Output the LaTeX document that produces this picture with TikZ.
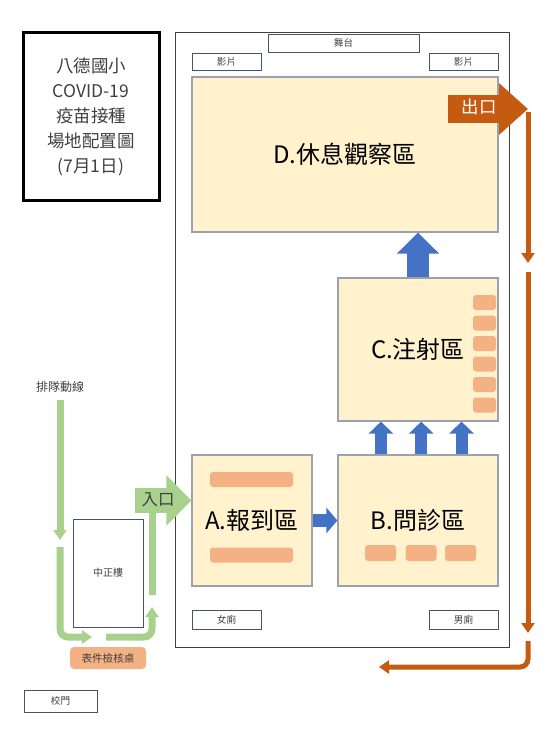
\documentclass[tikz,border=0pt]{standalone}
\usepackage{fontspec}
\setmainfont{Noto Sans CJK TC}
\definecolor{zoneFill}{HTML}{FFF2CC}
\definecolor{zoneEdge}{HTML}{9AA3AD}
\definecolor{barFill}{HTML}{F4B183}
\definecolor{flowBlue}{HTML}{4472C4}
\definecolor{exitOrange}{HTML}{C55A11}
\definecolor{queueGreen}{HTML}{A9D18E}
\definecolor{signEdge}{HTML}{44546A}
\definecolor{textGray}{HTML}{404040}
\usetikzlibrary{arrows.meta, calc}

\begin{document}
\begin{tikzpicture}[
        x=0.5pt, y=-0.5pt,
        zone/.style={rectangle, draw=zoneEdge, line width=0.6pt, fill=zoneFill, inner sep=0pt,
                     font=\fontsize{12}{14}\selectfont, text=black},
        sign/.style={rectangle, draw=signEdge, line width=0.4pt, fill=white, inner sep=0pt,
                     font=\fontsize{4.8}{5}\selectfont, text=textGray},
        bar/.style={rectangle, fill=barFill, rounded corners=1.5pt, inner sep=0pt},
        bigflow/.style={draw=flowBlue, line width=11pt, -{Triangle[width=20.5pt, length=10.5pt]}},
        smallflow/.style={draw=flowBlue, line width=6pt, -{Triangle[width=12pt, length=6pt]}},
        queueline/.style={draw=queueGreen, line width=3.5pt, rounded corners=4pt},
        queuearrow/.style={queueline, -{Triangle[width=6.5pt, length=5pt]}},
        exitline/.style={draw=exitOrange, line width=2.5pt, rounded corners=4pt, -{Triangle[width=6.5pt, length=5pt]}}
      ]
        \useasboundingbox (0,0) rectangle (550,733);

        % hall and fixed places
        \node[draw=textGray, line width=0.5pt, minimum width=167pt, minimum height=307pt] (hall) at (342,340) {};
        \node[draw=black, line width=1.5pt, minimum width=68pt, minimum height=83.5pt, align=center,
              text=textGray, font=\fontsize{8.75}{12.5}\selectfont] (title) at (91,116.5)
              {八德國小\\COVID-19\\疫苗接種\\場地配置圖\\(7月1日)};
        \node[sign, minimum width=75.5pt, minimum height=9pt] (stage) at (343.5,43) {舞台};
        \node[sign, minimum width=34.5pt, minimum height=8.5pt] (filmL) at (226.5,61.5) {影片};
        \node[sign, minimum width=34.5pt, minimum height=8.5pt] (filmR) at (463.5,61.5) {影片};
        \node[sign, minimum width=34.5pt, minimum height=9.5pt] (wcF) at (226.5,619.5) {女廁};
        \node[sign, minimum width=34.5pt, minimum height=9.5pt] (wcM) at (463.5,619.5) {男廁};
        \node[sign, minimum width=36.5pt, minimum height=11pt] (gate) at (60.5,701) {校門};
        \node[sign, minimum width=35pt, minimum height=54pt, font=\fontsize{5}{6}\selectfont] (bldg) at (108,573) {中正樓};
        \node[bar, minimum width=38pt, minimum height=11pt, rounded corners=2pt, text=textGray,
              font=\fontsize{5.3}{6}\selectfont] (check) at (108,658) {表件檢核桌};

        % zones
        \node[zone, minimum width=153pt, minimum height=77.5pt] (D) at (345,154.5) {D.休息觀察區};
        \node[zone, minimum width=80pt, minimum height=71.5pt] (C) at (418,349.5) {C.注射區};
        \node[zone, minimum width=60pt, minimum height=65.5pt] (A) at (252,520.5) {A.報到區};
        \node[zone, minimum width=80pt, minimum height=65.5pt] (B) at (418,520.5) {B.問診區};
        \foreach \y in {479.5,555} \node[bar, minimum width=41.5pt, minimum height=7.5pt] at (251.5,\y) {};
        \foreach \x in {380.5,421,460.5} \node[bar, minimum width=15.5pt, minimum height=8pt] at (\x,553) {};
        \foreach \k in {0,...,5} \node[bar, minimum width=11.5pt, minimum height=7.5pt] at (484.5,302.5+20.5*\k) {};

        % flow inside
        \draw[smallflow, line width=6.5pt, -{Triangle[width=12.5pt, length=5.5pt]}] (A.east) -- (B.west);
        \foreach \f in {0.27,0.52,0.77}
          \draw[smallflow] ($(B.north west)!\f!(B.north east)$) -- ($(C.south west)!\f!(C.south east)$);
        \draw[bigflow] (C.north) -- (C.north |- D.south);

        % queue outside
        \node[text=textGray, font=\fontsize{6}{7}\selectfont] (queue) at (60,387) {排隊動線};
        \coordinate (q1) at (60,540);
        \coordinate (q2) at (60,547);
        \coordinate (q3) at (92,637);
        \coordinate (q4) at (106,637);
        \coordinate (q5) at (152,607);
        \coordinate (q6) at (152,595);
        \coordinate (entrytail) at (135,500.5);
        \draw[queuearrow] (queue.south) -- (q1);
        \draw[queuearrow] (q2) |- (q3);
        \draw[queuearrow] (q4) -| (q5);
        \draw[queueline] (q6) -- (q6 |- entrytail);
        \draw[draw=queueGreen, line width=12.5pt, -{Triangle[width=24.5pt, length=12.5pt]}] (entrytail) -- (entrytail -| A.west);
        \node[text=textGray, font=\fontsize{8.2}{9}\selectfont] (entry) at (158,500) {入口};

        % exit
        \coordinate (exittail) at (448,109);
        \coordinate (exittip) at (528,109);
        \draw[draw=exitOrange, line width=14pt, -{Triangle[width=25pt, length=14.5pt]}] (exittail) -- (exittip);
        \node[text=white, font=\fontsize{8.7}{9}\selectfont] (exit) at (479,107) {出口};
        \coordinate (o0) at (528,112);
        \coordinate (o1) at (528,263);
        \coordinate (o2) at (528,272);
        \coordinate (o3) at (528,633);
        \coordinate (o4) at (528,641);
        \coordinate (o5) at (379,667);
        \draw[exitline] (o0) -- (o1);
        \draw[exitline] (o2) -- (o3);
        \draw[exitline] (o4) |- (o5);
      \end{tikzpicture}
\end{document}
